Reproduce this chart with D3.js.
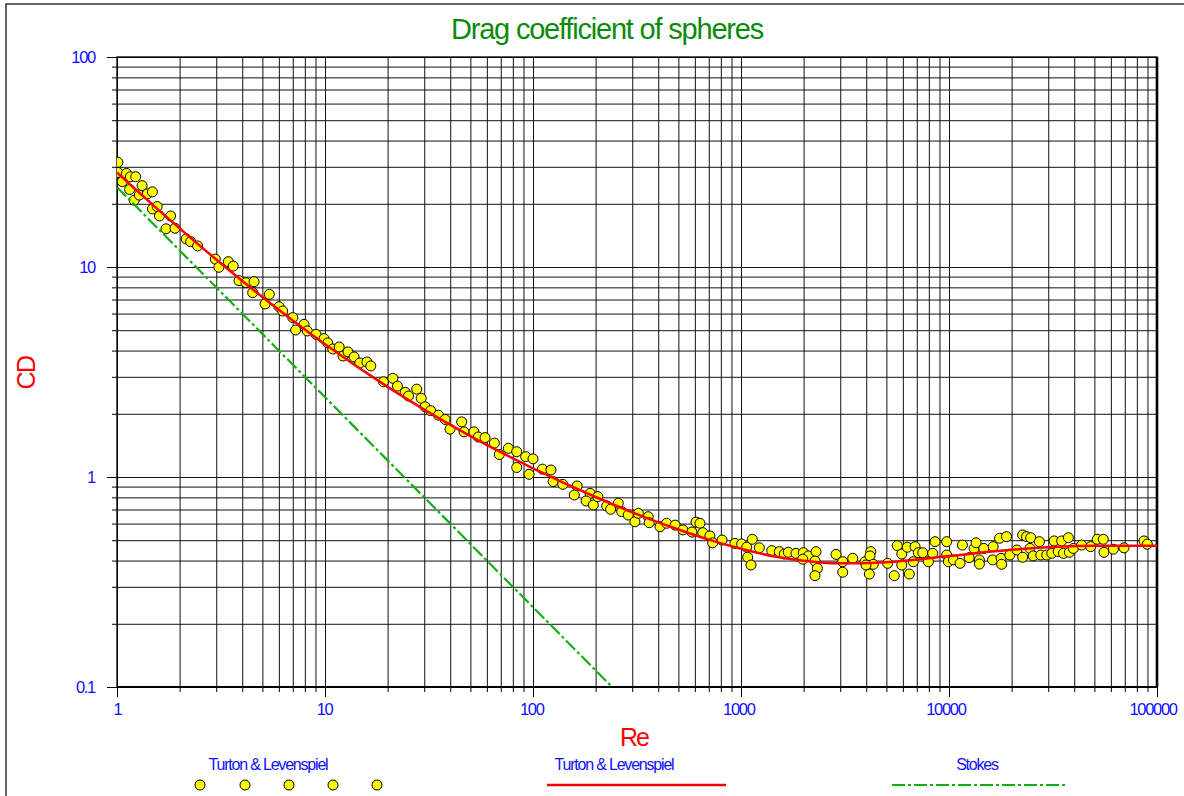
<!DOCTYPE html>
<html>
<head>
<meta charset="utf-8">
<title>Drag coefficient of spheres</title>
<script src="https://d3js.org/d3.v7.min.js" charset="utf-8"></script>
<style>
    body { margin: 0; background: #fff; }
    svg text { font-family: "Liberation Sans", Arial, sans-serif; }
</style>
</head>
<body>
<script>
// measured points (Re, CD)
var reData = [1.01,1.01,1.06,1.11,1.16,1.23,1.15,1.21,1.32,1.28,1.40,1.48,1.48,1.56,1.60,1.81,1.72,1.90,2.15,2.26,
    2.44,2.97,3.09,3.43,3.62,3.86,4.17,4.56,4.49,5.40,5.15,6.01,6.26,7.00,7.23,7.93,8.22,9.05,9.89,10.3,
    10.9,11.7,12.2,12.9,13.8,14.7,15.9,16.6,19.1,21.2,22.3,24.3,25.2,27.6,29.0,30.3,32.2,35.1,37.8,39.9,
    45.4,46.6,52.0,54.6,58.8,65.2,68.9,76.1,83.5,83.5,92.2,100,95.7,111,122,125,139,163,158,188,
    180,195,205,226,236,257,267,287,309,321,358,362,408,439,482,526,608,581,635,655,
    709,731,811,935,1007,1065,1133,1225,1077,1117,1405,1528,1615,1688,1838,1995,2107,2295,1982,2269,
    2328,2269,2864,3083,3083,3444,3945,4205,4169,4140,4325,3990,5070,5458,5640,5929,5929,6305,6442,6733,
    6870,7120,7480,7960,8350,8570,9750,9750,9930,10500,11300,11600,12500,13200,13500,14000,14000,14700,16300,16200,
    17500,17800,17900,18900,19600,21200,22600,22600,23600,24700,24500,25400,27200,27600,29500,31200,32000,33500,34800,35500,
    37500,37900,39600,43400,48000,51600,55200,55600,61700,69400,86600,89800];
var cdData = [31.5,28.2,25.5,27.9,26.9,26.9,23.4,20.8,24.4,22.0,22.3,22.8,18.9,19.4,17.5,17.5,15.2,15.3,13.6,13.2,
    12.6,10.9,9.97,10.6,10.1,8.61,8.42,8.51,7.55,7.41,6.67,6.47,6.17,5.74,5.01,5.33,4.96,4.78,4.56,4.35,
    4.07,4.16,3.77,3.94,3.73,3.49,3.53,3.38,2.84,2.95,2.71,2.53,2.43,2.62,2.37,2.16,2.07,1.97,1.88,1.69,
    1.83,1.64,1.64,1.55,1.54,1.45,1.28,1.37,1.32,1.11,1.25,1.22,1.03,1.09,1.08,0.951,0.923,0.906,0.821,0.836,
    0.769,0.736,0.806,0.728,0.702,0.750,0.684,0.659,0.612,0.671,0.647,0.606,0.580,0.602,0.590,0.560,0.610,0.547,0.602,0.543,
    0.524,0.486,0.501,0.483,0.480,0.463,0.505,0.460,0.415,0.381,0.446,0.441,0.430,0.438,0.433,0.436,0.421,0.441,0.406,0.398,
    0.367,0.339,0.428,0.395,0.352,0.410,0.395,0.441,0.421,0.345,0.384,0.381,0.388,0.339,0.471,0.430,0.381,0.463,0.345,0.395,
    0.466,0.436,0.436,0.395,0.433,0.492,0.492,0.425,0.395,0.403,0.388,0.474,0.413,0.457,0.486,0.403,0.385,0.457,0.466,0.403,
    0.511,0.410,0.384,0.520,0.425,0.449,0.415,0.530,0.520,0.514,0.457,0.421,0.492,0.425,0.425,0.433,0.496,0.441,0.496,0.433,
    0.514,0.438,0.457,0.474,0.466,0.505,0.505,0.438,0.453,0.460,0.496,0.479];

// Turton & Levenspiel curve
var reCurve = [1,1.5,2,3,5,7,10,20,30,50,70,100,200,300,500,700,1000,1500,2000,3000,5000,10000,20000,50000,100000];
var cdCurve = [28.15,19.61,15.27,10.85,7.19,5.56,4.285,2.687,2.094,1.567,1.312,1.100,0.803,0.679,0.562,0.503,0.455,0.416,0.399,0.388,0.393,0.420,0.450,0.470,0.471];

// Stokes line
var stokesRe = [1, 240];
var stokesCd = [24, 0.1];

var xTickValues = [1, 10, 100, 1000, 10000, 100000];
var xTickLabels = ["1", "10", "100", "1000", "10000", "100000"];
var yTickValues = [0.1, 1, 10, 100];
var yTickLabels = ["0.1", "1", "10", "100"];

var width = 1184, height = 796;
var margin = {left: 117, top: 57, right: 27, bottom: 109};
var w = width - margin.left - margin.right;
var h = height - margin.top - margin.bottom;

var blue = "#1010ff";

var svg = d3.select("body").append("svg")
    .attr("width", width)
    .attr("height", height);

svg.append("rect").attr("width", width).attr("height", height).attr("fill", "#fff");

// outer frame
svg.append("rect")
    .attr("x", 6).attr("y", 4)
    .attr("width", 1300).attr("height", 900)
    .attr("fill", "none").attr("stroke", "#333").attr("stroke-width", 1.5);

var x = d3.scaleLog().domain([1, 100000]).range([0, w]);
var y = d3.scaleLog().domain([0.1, 100]).range([h, 0]);

var g = svg.append("g")
    .attr("transform", "translate(" + margin.left + "," + margin.top + ")");

// grid
var gy = g.append("g")
    .call(d3.axisLeft(y).tickValues(y.ticks()).tickSize(-w).tickFormat(""));
var gx = g.append("g")
    .attr("transform", "translate(0," + h + ")")
    .call(d3.axisBottom(x).tickValues(x.ticks()).tickSize(-h).tickFormat(""));
[gx, gy].forEach(function(a) {
    a.select(".domain").remove();
    a.selectAll("line").attr("stroke", "#111").attr("stroke-width", 1);
});

// minor ticks
g.append("g").call(d3.axisLeft(y).tickValues(y.ticks()).tickSize(5).tickFormat(""))
    .select(".domain").remove();
g.append("g").attr("transform", "translate(0," + h + ")")
    .call(d3.axisBottom(x).tickValues(x.ticks()).tickSize(5).tickFormat(""))
    .select(".domain").remove();

// major ticks + labels
var yAxis = g.append("g")
    .call(d3.axisLeft(y).tickValues(yTickValues).tickSize(10).tickPadding(12)
        .tickFormat(function(d, i) { return yTickLabels[i]; }));
var xAxis = g.append("g")
    .attr("transform", "translate(0," + h + ")")
    .call(d3.axisBottom(x).tickValues(xTickValues).tickSize(10).tickPadding(6)
        .tickFormat(function(d, i) { return xTickLabels[i]; }));
[xAxis, yAxis].forEach(function(a) {
    a.select(".domain").remove();
    a.selectAll("line").attr("stroke", "#000");
    a.selectAll("text")
        .attr("fill", blue)
        .style("font-size", "16.5px")
        .style("letter-spacing", "-1.3px")
        .style("font-family", '"Liberation Sans", Arial, sans-serif');
});
xAxis.selectAll("text").attr("dx", function(d, i) { return -(xTickLabels[i].length - 1) * 0.9; });

// plot frame
g.append("rect").attr("width", w).attr("height", h)
    .attr("fill", "none").attr("stroke", "#000").attr("stroke-width", 1.3);
g.append("line").attr("x1", w).attr("x2", w).attr("y1", 0).attr("y2", h)
    .attr("stroke", "#000").attr("stroke-width", 2.6);
g.append("line").attr("x1", 0).attr("x2", w).attr("y1", h).attr("y2", h)
    .attr("stroke", "#000").attr("stroke-width", 2);

var clip = g.append("clipPath").attr("id", "clip")
    .append("rect").attr("width", w).attr("height", h);

var plot = g.append("g").attr("clip-path", "url(#clip)");

// points
plot.selectAll("circle.pt")
    .data(reData.map(function(r, i) { return [r, cdData[i]]; }))
    .enter().append("circle")
    .attr("class", "pt")
    .attr("cx", function(d) { return x(d[0]); })
    .attr("cy", function(d) { return y(d[1]); })
    .attr("r", 5)
    .attr("fill", "#ffff00")
    .attr("stroke", "#000")
    .attr("stroke-width", 1);

var line = d3.line()
    .x(function(d) { return x(d[0]); })
    .y(function(d) { return y(d[1]); })
    .curve(d3.curveMonotoneX);

plot.append("path")
    .datum(reCurve.map(function(r, i) { return [r, cdCurve[i]]; }))
    .attr("d", line)
    .attr("fill", "none")
    .attr("stroke", "#ff0000")
    .attr("stroke-width", 2.5);

plot.append("path")
    .datum(stokesRe.map(function(r, i) { return [r, stokesCd[i]]; }))
    .attr("d", d3.line().x(function(d) { return x(d[0]); }).y(function(d) { return y(d[1]); }))
    .attr("fill", "none")
    .attr("stroke", "#10b010")
    .attr("stroke-width", 2.2)
    .attr("stroke-dasharray", "13,3,3,3");

// titles
svg.append("text")
    .attr("x", 607).attr("y", 39)
    .attr("text-anchor", "middle")
    .attr("fill", "#0a8a0a")
    .style("font-size", "29px")
    .style("letter-spacing", "-1.2px")
    .text("Drag coefficient of spheres");

svg.append("text")
    .attr("x", 634).attr("y", 746)
    .attr("text-anchor", "middle")
    .attr("fill", "#ff0000")
    .style("font-size", "25px")
    .style("letter-spacing", "-2px")
    .text("Re");

svg.append("text")
    .attr("transform", "translate(35,373) rotate(-90)")
    .attr("text-anchor", "middle")
    .attr("fill", "#ff0000")
    .style("font-size", "25px")
    .style("letter-spacing", "-1.5px")
    .text("CD");

// legend
var legendY = 785;
function legendLabel(cx, txt) {
    svg.append("text")
        .attr("x", cx).attr("y", 770)
        .attr("text-anchor", "middle")
        .attr("fill", blue)
        .style("font-size", "16px")
        .style("letter-spacing", "-1.2px")
        .text(txt);
}
legendLabel(268, "Turton & Levenspiel");
legendLabel(614, "Turton & Levenspiel");
legendLabel(977, "Stokes");

var legendDots = [200, 245, 289, 333, 377];
svg.selectAll("circle.leg")
    .data(legendDots)
    .enter().append("circle")
    .attr("class", "leg")
    .attr("cx", function(d) { return d; })
    .attr("cy", legendY)
    .attr("r", 5)
    .attr("fill", "#ffff00")
    .attr("stroke", "#000");

svg.append("line")
    .attr("x1", 547).attr("x2", 726).attr("y1", legendY).attr("y2", legendY)
    .attr("stroke", "#ff0000").attr("stroke-width", 2.5);
svg.append("line")
    .attr("x1", 892).attr("x2", 1067).attr("y1", legendY).attr("y2", legendY)
    .attr("stroke", "#10b010").attr("stroke-width", 2.2)
    .attr("stroke-dasharray", "13,3,3,3");
</script>
</body>
</html>
